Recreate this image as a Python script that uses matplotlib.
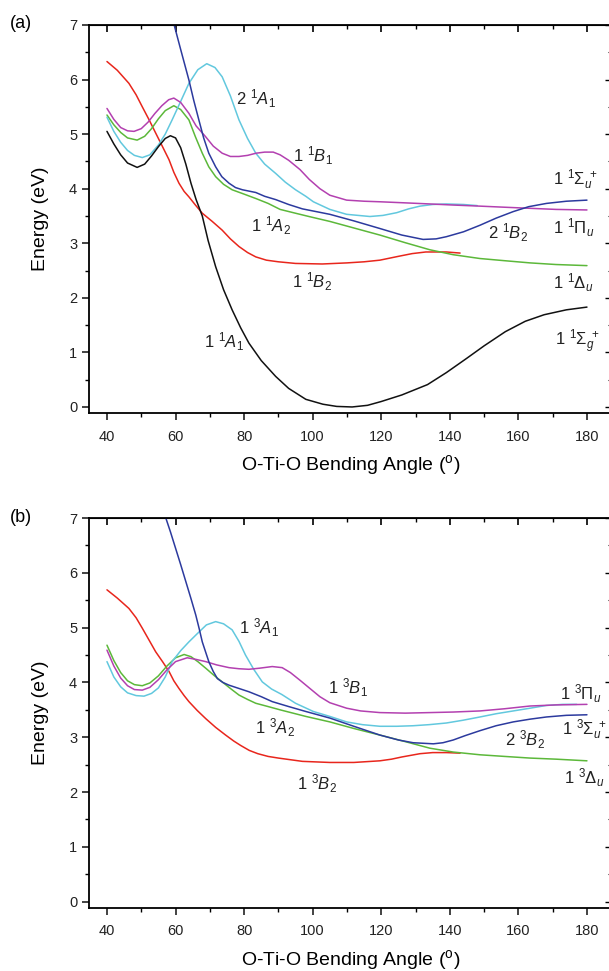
import matplotlib
matplotlib.use("Agg")
import matplotlib.pyplot as plt
from matplotlib.ticker import MultipleLocator

plt.rcParams['font.family'] = ['Liberation Sans', 'DejaVu Sans']
plt.rcParams['mathtext.fontset'] = 'custom'
plt.rcParams['mathtext.rm'] = 'Liberation Sans'
plt.rcParams['mathtext.it'] = 'Liberation Sans:italic'
plt.rcParams['mathtext.bf'] = 'Liberation Sans:bold'

# ---------------- Panel (a): singlet states ----------------
a_black_x = [40, 42, 44, 46, 48.8, 51, 53, 55, 57, 58.5, 60, 61.5, 63, 64.5, 66, 67.8, 69.5, 71.7, 74, 76.5, 79, 81.4,
             85, 89.2, 93, 98, 103, 107, 111.5, 116, 120, 126, 133.5, 139, 144.9, 150, 156.2, 162, 167.5, 174, 180]
a_black_y = [5.05, 4.82, 4.62, 4.47, 4.39, 4.45, 4.60, 4.77, 4.92, 4.97, 4.93, 4.75, 4.45, 4.10, 3.80, 3.50, 3.05, 2.57,
             2.15, 1.78, 1.45, 1.17, 0.85, 0.56, 0.34, 0.14, 0.05, 0.01, 0.0, 0.03, 0.10, 0.22, 0.41, 0.63, 0.89, 1.12,
             1.38, 1.57, 1.69, 1.78, 1.83]

a_red_x = [40, 43, 46.4, 48.5, 50.3, 52.3, 54.2, 56.2, 58.1, 59.5, 61, 62.5, 63.9, 65.8, 67.8, 70.7, 73.6, 76, 78.5, 81,
           83.4, 86.5, 90, 95, 102.8, 110, 115, 119.6, 125, 129, 133, 139, 143]
a_red_y = [6.33, 6.17, 5.93, 5.72, 5.50, 5.26, 5.02, 4.77, 4.53, 4.30, 4.10, 3.95, 3.85, 3.70, 3.55, 3.40, 3.24, 3.08,
           2.94, 2.83, 2.75, 2.69, 2.66, 2.63, 2.62, 2.64, 2.66, 2.69, 2.76, 2.81, 2.84, 2.84, 2.82]

a_green_x = [40, 42, 44, 46, 48.8, 51, 53, 55, 57, 59.5, 61.5, 63.9, 65.8, 67.8, 69.7, 71.7, 74, 76.5, 80, 83.4, 87,
             90.5, 95, 98.9, 105, 112, 119.6, 127, 134.2, 141, 148.8, 156, 163.4, 171, 180]
a_green_y = [5.35, 5.17, 5.03, 4.93, 4.89, 4.96, 5.10, 5.28, 5.43, 5.52, 5.45, 5.26, 4.95, 4.65, 4.40, 4.22, 4.08, 3.98,
             3.90, 3.82, 3.73, 3.62, 3.55, 3.49, 3.40, 3.28, 3.15, 3.01, 2.88, 2.79, 2.72, 2.68, 2.64, 2.61, 2.59]

a_mag_x = [40, 42, 44, 46, 47.9, 50, 52, 54, 56, 58, 59.5, 61.5, 63.9, 66, 68.8, 71, 73.6, 76, 78.5, 81, 83.5, 86,
           88.5, 90.5, 93, 96.3, 99, 102.1, 105, 109.9, 115, 119.6, 127, 134.2, 141, 148.8, 156, 163.4, 171, 180]
a_mag_y = [5.47, 5.27, 5.12, 5.06, 5.05, 5.10, 5.22, 5.38, 5.52, 5.63, 5.66, 5.58, 5.38, 5.15, 4.95, 4.78, 4.65, 4.59,
           4.59, 4.61, 4.65, 4.67, 4.67, 4.62, 4.52, 4.35, 4.17, 4.00, 3.88, 3.79, 3.77, 3.76, 3.74, 3.72, 3.70, 3.68,
           3.66, 3.64, 3.62, 3.61]

a_cyan_x = [40, 42, 44, 46, 48, 50.3, 52.5, 55, 57, 59, 61.5, 63.9, 66.5, 69.1, 71.5, 73.6, 76, 78.5, 81, 83.4, 86,
            89.2, 92, 95, 98, 100.2, 105, 109.9, 116.7, 120.5, 124.5, 128, 131.3, 135, 139, 144, 148]
a_cyan_y = [5.31, 5.05, 4.85, 4.70, 4.61, 4.57, 4.62, 4.80, 5.00, 5.26, 5.60, 5.93, 6.18, 6.29, 6.22, 6.05, 5.70, 5.26,
            4.92, 4.65, 4.45, 4.28, 4.12, 3.98, 3.86, 3.76, 3.62, 3.53, 3.49, 3.51, 3.56, 3.63, 3.68, 3.71, 3.72, 3.71,
            3.69]

a_blue_x = [59.6, 61.5, 63.9, 65.3, 66.8, 68.2, 69.7, 71.7, 73.5, 75.6, 77.5, 79.5, 83.4, 86, 89.2, 93, 97, 101, 105,
            112, 119.6, 126, 132.2, 136, 139, 144, 148.8, 153.5, 158.5, 163, 168.2, 174, 180]
a_blue_y = [7.0, 6.55, 5.99, 5.62, 5.26, 4.93, 4.65, 4.40, 4.22, 4.10, 4.02, 3.98, 3.93, 3.86, 3.80, 3.71, 3.63, 3.58,
            3.53, 3.41, 3.27, 3.15, 3.07, 3.08, 3.12, 3.21, 3.33, 3.46, 3.58, 3.67, 3.73, 3.77, 3.79]

# ---------------- Panel (b): triplet states ----------------
b_red_x = [40, 43, 46.4, 48.5, 50.3, 52.3, 54.2, 56.2, 58.1, 59.5, 61, 62.5, 63.9, 66.3, 68.8, 71.7, 74.6, 77, 79, 81.5,
           84, 87, 90, 97, 105, 112, 119.6, 123, 126, 131.3, 135, 139, 143]
b_red_y = [5.69, 5.54, 5.35, 5.18, 4.99, 4.77, 4.56, 4.38, 4.20, 4.03, 3.89, 3.76, 3.65, 3.49, 3.34, 3.18, 3.04, 2.93,
           2.85, 2.76, 2.70, 2.65, 2.62, 2.56, 2.54, 2.54, 2.57, 2.60, 2.64, 2.70, 2.72, 2.72, 2.71]

b_green_x = [40, 42, 44, 46, 48, 50.3, 52.5, 55, 57.5, 60, 62.5, 64.5, 66.5, 68.8, 71.2, 73.6, 76, 78.5, 81, 83.4, 87,
             90.5, 98, 105, 112, 119.6, 127, 134.2, 141, 148.8, 156, 163.4, 171, 180]
b_green_y = [4.68, 4.40, 4.18, 4.03, 3.96, 3.94, 3.99, 4.12, 4.30, 4.45, 4.51, 4.47, 4.38, 4.26, 4.13, 4.01, 3.89, 3.77,
             3.69, 3.62, 3.56, 3.50, 3.38, 3.28, 3.16, 3.04, 2.92, 2.80, 2.73, 2.68, 2.65, 2.62, 2.60, 2.57]

b_mag_x = [40, 42, 44, 46, 48, 50.3, 52.5, 55, 57.5, 60, 63.4, 66, 68.8, 72, 75.6, 78.5, 81.4, 84.5, 88.2, 91.1, 93.5,
           96.3, 99, 102.1, 105, 109.9, 114, 119.6, 127, 134.2, 141, 148.8, 156, 163.4, 171, 180]
b_mag_y = [4.59, 4.30, 4.08, 3.94, 3.87, 3.86, 3.91, 4.05, 4.23, 4.38, 4.45, 4.42, 4.38, 4.32, 4.27, 4.25, 4.24, 4.26,
           4.29, 4.27, 4.18, 4.04, 3.90, 3.74, 3.63, 3.53, 3.48, 3.45, 3.44, 3.45, 3.46, 3.48, 3.52, 3.57, 3.59, 3.60]

b_cyan_x = [40, 42, 44, 46, 48.5, 50.8, 53, 55, 57, 59, 61.5, 63.9, 66.5, 69, 71.7, 74, 76.5, 78.5, 80.4, 82.8, 85.3,
            88, 91, 95, 100.2, 105, 109.9, 114.5, 119.6, 124.5, 129.3, 134, 139, 143.8, 148.8, 153.6, 158.5, 163.4,
            168.2, 173, 177]
b_cyan_y = [4.38, 4.10, 3.92, 3.81, 3.76, 3.75, 3.80, 3.90, 4.10, 4.38, 4.58, 4.74, 4.90, 5.05, 5.11, 5.07, 4.96, 4.75,
            4.50, 4.24, 4.01, 3.88, 3.78, 3.62, 3.47, 3.38, 3.28, 3.23, 3.20, 3.20, 3.21, 3.23, 3.26, 3.31, 3.37, 3.43,
            3.48, 3.53, 3.58, 3.60, 3.60]

b_blue_x = [56.9, 58.5, 60, 61.5, 63, 64.5, 65.9, 66.9, 67.8, 68.8, 69.7, 71, 72.2, 73.8, 75.6, 78.5, 81.4, 85, 88.2,
            93, 98, 105, 112, 119.6, 125, 129.3, 135.2, 138, 141, 144.5, 148.8, 153.5, 158.5, 163.4, 168.2, 174, 180]
b_blue_y = [7.05, 6.75, 6.45, 6.15, 5.84, 5.53, 5.23, 4.98, 4.74, 4.55, 4.38, 4.20, 4.07, 4.00, 3.95, 3.89, 3.83, 3.74,
            3.65, 3.56, 3.47, 3.35, 3.20, 3.04, 2.95, 2.90, 2.88, 2.90, 2.95, 3.03, 3.12, 3.21, 3.28, 3.33, 3.37, 3.40,
            3.41]

# state labels: (text, x, y)
a_labels = [
    (r'2 $^{1}A_{1}$', 77.6, 5.64),
    (r'1 $^{1}B_{1}$', 94.3, 4.60),
    (r'1 $^{1}A_{2}$', 82.0, 3.32),
    (r'1 $^{1}B_{2}$', 94.0, 2.29),
    (r'1 $^{1}A_{1}$', 68.3, 1.19),
    (r'2 $^{1}B_{2}$', 151.1, 3.19),
    (r'1 $^{1}\Sigma_{u}^{\ +}$', 170.1, 4.16),
    (r'1 $^{1}\Pi_{u}$', 170.1, 3.28),
    (r'1 $^{1}\Delta_{u}$', 170.1, 2.27),
    (r'1 $^{1}\Sigma_{g}^{\ +}$', 170.7, 1.19),
]
b_labels = [
    (r'1 $^{3}A_{1}$', 78.5, 4.99),
    (r'1 $^{3}B_{1}$', 104.5, 3.90),
    (r'1 $^{3}A_{2}$', 83.2, 3.17),
    (r'1 $^{3}B_{2}$', 95.4, 2.16),
    (r'2 $^{3}B_{2}$', 156.1, 2.95),
    (r'1 $^{3}\Pi_{u}$', 172.1, 3.79),
    (r'1 $^{3}\Sigma_{u}^{\ +}$', 172.7, 3.14),
    (r'1 $^{3}\Delta_{u}$', 173.3, 2.27),
]

C_BLACK = '#111111'
C_RED = '#e8261c'
C_GREEN = '#5cb83a'
C_MAG = '#b340b0'
C_CYAN = '#62c8de'
C_BLUE = '#2c3a9e'

fig = plt.figure(figsize=(6.09, 9.71), dpi=100)
axa = fig.add_axes([0.1461, 0.5747, 0.8588, 0.3996])
axb = fig.add_axes([0.1461, 0.0652, 0.8588, 0.4013])

lw = 1.1
kw = dict(lw=lw, solid_joinstyle='round', solid_capstyle='round')
axa.plot(a_red_x, a_red_y, color=C_RED, **kw)
axa.plot(a_green_x, a_green_y, color=C_GREEN, **kw)
axa.plot(a_cyan_x, a_cyan_y, color=C_CYAN, **kw)
axa.plot(a_mag_x, a_mag_y, color=C_MAG, **kw)
axa.plot(a_blue_x, a_blue_y, color=C_BLUE, **kw)
axa.plot(a_black_x, a_black_y, color=C_BLACK, **kw)

axb.plot(b_red_x, b_red_y, color=C_RED, **kw)
axb.plot(b_green_x, b_green_y, color=C_GREEN, **kw)
axb.plot(b_cyan_x, b_cyan_y, color=C_CYAN, **kw)
axb.plot(b_mag_x, b_mag_y, color=C_MAG, **kw)
axb.plot(b_blue_x, b_blue_y, color=C_BLUE, **kw)

for ax, labels in ((axa, a_labels), (axb, b_labels)):
    for txt, x, y in labels:
        ax.text(x, y, txt, fontsize=12, ha='left', va='center', color='#222222')
    ax.set_xlim(34.75, 187.3)
    ax.set_ylim(-0.11, 7)
    ax.xaxis.set_major_locator(MultipleLocator(20))
    ax.xaxis.set_minor_locator(MultipleLocator(10))
    ax.yaxis.set_major_locator(MultipleLocator(1))
    ax.yaxis.set_minor_locator(MultipleLocator(0.5))
    ax.tick_params(axis='both', which='major', direction='out', length=5, width=1.2,
                   labelsize=10.5, colors='#222222')
    ax.tick_params(axis='x', which='major', pad=7)
    ax.tick_params(axis='both', which='minor', direction='out', length=3, width=1.0)
    for s in ax.spines.values():
        s.set_linewidth(1.3)
    ax.set_xlabel('O-Ti-O Bending Angle ($^{\\mathregular{o}}$)', fontsize=14, labelpad=7)
    ax.set_ylabel('Energy (eV)', fontsize=14, labelpad=14)
    # top / right inward ticks
    secx = ax.secondary_xaxis('top')
    secx.xaxis.set_major_locator(MultipleLocator(20))
    secx.xaxis.set_minor_locator(MultipleLocator(10))
    secx.tick_params(which='major', direction='in', length=5, width=1.2, labeltop=False)
    secx.tick_params(which='minor', direction='in', length=3, width=1.0)
    secy = ax.secondary_yaxis('right')
    secy.yaxis.set_major_locator(MultipleLocator(1))
    secy.yaxis.set_minor_locator(MultipleLocator(0.5))
    secy.tick_params(which='major', direction='in', length=5, width=1.0, labelright=False)
    secy.tick_params(which='minor', direction='in', length=3, width=0.8)

fig.text(10 / 609, 1 - 24 / 971, '(a)', fontsize=13, ha='left', va='center')
fig.text(10 / 609, 1 - 518 / 971, '(b)', fontsize=13, ha='left', va='center')

fig.savefig('out.png', dpi=100)
